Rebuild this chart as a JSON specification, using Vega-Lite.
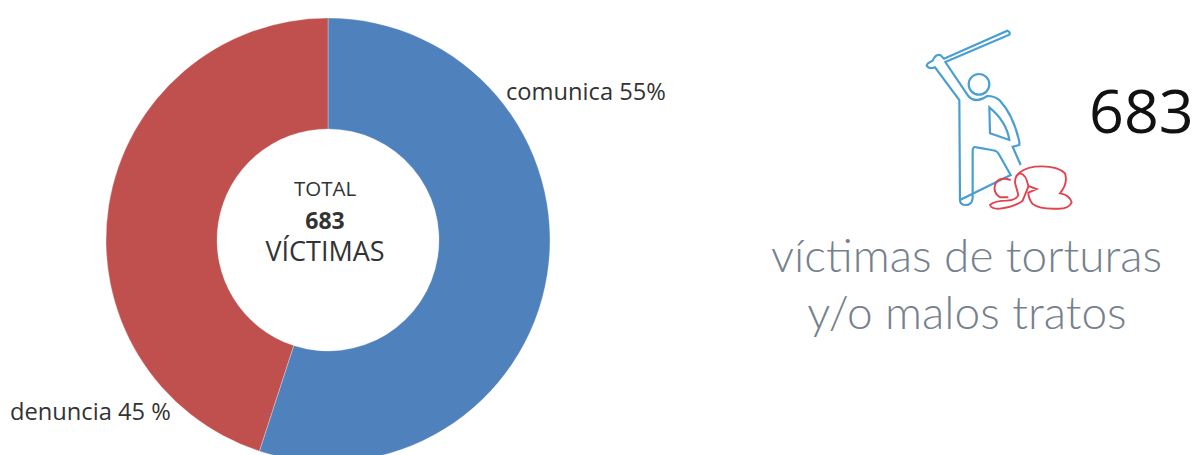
{
  "$schema": "https://vega.github.io/schema/vega-lite/v6.json",
  "width": 1193,
  "height": 455,
  "padding": 0,
  "autosize": "none",
  "background": "white",
  "config": {"view": {"stroke": null}},
  "layer": [
    {
      "data": {"values": [
        {"categoria": "comunica", "porcentaje": 55, "orden": 1},
        {"categoria": "denuncia", "porcentaje": 45, "orden": 2}
      ]},
      "mark": {"type": "arc", "innerRadius": 111, "outerRadius": 222, "stroke": "#ffffff", "strokeWidth": 0.3},
      "encoding": {
        "x": {"datum": 328, "type": "quantitative", "scale": {"domain": [0, 1193], "range": [0, 1193], "nice": false, "zero": false}, "axis": null},
        "y": {"datum": 240, "type": "quantitative", "scale": {"domain": [0, 455], "range": [0, 455], "nice": false, "zero": false}, "axis": null},
        "theta": {"field": "porcentaje", "type": "quantitative", "stack": true},
        "order": {"field": "orden"},
        "color": {"field": "categoria", "type": "nominal", "legend": null,
          "scale": {"domain": ["comunica", "denuncia"], "range": ["#4f81bd", "#c0504d"]}}
      }
    },
    {
      "data": {"values": [{"t": "comunica 55%"}]},
      "mark": {"type": "text", "align": "left", "baseline": "alphabetic", "font": "Open Sans", "fontSize": 23.7, "color": "#333333"},
      "encoding": {"x": {"datum": 506, "type": "quantitative"}, "y": {"datum": 100, "type": "quantitative"}, "text": {"field": "t"}}
    },
    {
      "data": {"values": [{"t": "denuncia 45 %"}]},
      "mark": {"type": "text", "align": "left", "baseline": "alphabetic", "font": "Open Sans", "fontSize": 23.7, "color": "#333333"},
      "encoding": {"x": {"datum": 10, "type": "quantitative"}, "y": {"datum": 420, "type": "quantitative"}, "text": {"field": "t"}}
    },
    {
      "data": {"values": [{"t": "TOTAL"}]},
      "mark": {"type": "text", "align": "center", "baseline": "alphabetic", "font": "Open Sans", "fontSize": 20.5, "color": "#333333"},
      "encoding": {"x": {"datum": 325, "type": "quantitative"}, "y": {"datum": 196, "type": "quantitative"}, "text": {"field": "t"}}
    },
    {
      "data": {"values": [{"t": "683"}]},
      "mark": {"type": "text", "align": "center", "baseline": "alphabetic", "font": "Open Sans", "fontWeight": "bold", "fontSize": 23, "color": "#333333"},
      "encoding": {"x": {"datum": 325, "type": "quantitative"}, "y": {"datum": 229, "type": "quantitative"}, "text": {"field": "t"}}
    },
    {
      "data": {"values": [{"t": "VÍCTIMAS"}]},
      "mark": {"type": "text", "align": "center", "baseline": "alphabetic", "font": "Open Sans", "fontSize": 27, "color": "#333333"},
      "encoding": {"x": {"datum": 325, "type": "quantitative"}, "y": {"datum": 261, "type": "quantitative"}, "text": {"field": "t"}}
    },
    {
      "data": {"values": [{"t": "683"}]},
      "mark": {"type": "text", "align": "left", "baseline": "alphabetic", "font": "Open Sans", "fontSize": 61, "color": "#111111"},
      "encoding": {"x": {"datum": 1089, "type": "quantitative"}, "y": {"datum": 133, "type": "quantitative"}, "text": {"field": "t"}}
    },
    {
      "data": {"values": [{"t": "víctimas de torturas"}]},
      "mark": {"type": "text", "align": "center", "baseline": "alphabetic", "font": "Lato", "fontWeight": 300, "fontSize": 46, "color": "#76818e"},
      "encoding": {"x": {"datum": 966.5, "type": "quantitative"}, "y": {"datum": 272, "type": "quantitative"}, "text": {"field": "t"}}
    },
    {
      "data": {"values": [{"t": "y/o malos tratos"}]},
      "mark": {"type": "text", "align": "center", "baseline": "alphabetic", "font": "Lato", "fontWeight": 300, "fontSize": 46, "color": "#76818e"},
      "encoding": {"x": {"datum": 967, "type": "quantitative"}, "y": {"datum": 329, "type": "quantitative"}, "text": {"field": "t"}}
    },
    {
      "data": {"values": [{"figura": "agresor"}]},
      "mark": {
        "type": "point", "filled": false, "size": 0.4444, "stroke": "#4a9fd1", "strokeWidth": 2.2, "opacity": 1,
        "shape": "M180 570 L178 270 L105 172 Q85 178 80 166 Q82 158 98 152 Q108 130 122 136 L132 146 L322 62 Q332 66 328 74 L136 156 L205 258 Q225 282 262 258 Q285 258 300 272 Q340 315 358 395 L358 405 L338 410 L362 465 M332 495 L295 430 Q290 422 275 420 L230 412 Q218 408 218 422 L218 565 Q215 585 198 585 Q180 585 180 570 Z M268 292 L270 370 L328 390 Q320 335 268 292 Z M268 223 A31 31 0 1 1 206 223 A31 31 0 1 1 268 223 Z"
      },
      "encoding": {"x": {"datum": 900, "type": "quantitative"}, "y": {"datum": 10, "type": "quantitative"}}
    },
    {
      "data": {"values": [{"figura": "victima"}]},
      "mark": {
        "type": "point", "filled": false, "size": 0.4444, "stroke": "#e2434f", "strokeWidth": 1.9, "opacity": 1,
        "shape": "M332 510 Q300 500 288 518 Q275 545 300 562 L325 562 M348 500 Q365 475 405 470 Q470 465 495 490 Q505 520 480 550 Q510 555 515 578 Q505 598 470 596 Q420 598 398 582 Q385 565 385 548 L410 537 L385 528 Q378 492 360 490 Q345 495 345 518 L355 555 Q350 570 320 572 Q285 572 270 585 Q275 598 300 596 Q345 590 368 572 L385 530"
      },
      "encoding": {"x": {"datum": 900, "type": "quantitative"}, "y": {"datum": 10, "type": "quantitative"}}
    }
  ]
}
